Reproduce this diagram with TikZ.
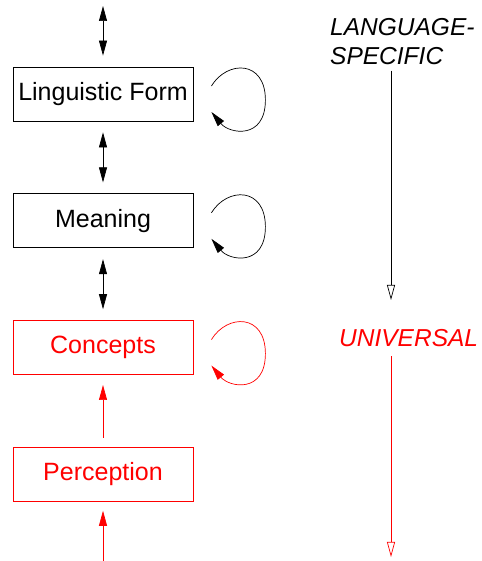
\documentclass[tikz,border=0pt]{standalone}
\usepackage{fontspec}
\setmainfont{Liberation Sans}
\usetikzlibrary{positioning,arrows.meta}

\begin{document}
\begin{tikzpicture}[x=1pt,y=1pt,>={Triangle[length=15pt,width=8pt]},node distance=72pt,
  every node/.style={font=\fontsize{25}{29}\selectfont},
  box/.style={draw,line width=0.8pt,minimum width=180pt,minimum height=54pt,inner sep=0pt},
  level/.style={font=\fontsize{24.5}{29}\selectfont\itshape,inner sep=0pt,align=left},
  link/.style={line width=0.7pt},
  down/.style={line width=0.7pt,-{Triangle[open,length=15pt,width=8pt]}}]
  \useasboundingbox (0,0) rectangle (481,561);

  \node[box] (form) at (103,467) {Linguistic Form};
  \node[box,below=of form] (meaning) {Meaning};
  \node[box,red,below=of meaning] (concepts) {Concepts};
  \node[box,red,below=of concepts] (percept) {Perception};

  \coordinate (out) at (103,555);
  \coordinate (in) at (103,0);

  \draw[link,<->,shorten >=11pt] (out) -- (form.north);
  \draw[link,<->,shorten <=11pt,shorten >=11pt] (form.south) -- (meaning.north);
  \draw[link,<->,shorten <=11pt,shorten >=11pt] (meaning.south) -- (concepts.north);
  \draw[link,red,->,shorten <=9pt,shorten >=10pt] (percept.north) -- (concepts.south);
  \draw[link,red,->,shorten >=9pt] (in) -- (percept.south);

  % self loops
  \draw[link,->] ([shift={(18,8)}]form.east) .. controls +(16,26) and +(0,40) .. ++(54,-14)
    .. controls +(0,-40) and +(18,-22) .. ++(-54,-12);
  \draw[link,->] ([shift={(18,8)}]meaning.east) .. controls +(16,26) and +(0,40) .. ++(54,-14)
    .. controls +(0,-40) and +(18,-22) .. ++(-54,-12);
  \draw[link,red,->] ([shift={(18,8)}]concepts.east) .. controls +(16,26) and +(0,40) .. ++(54,-14)
    .. controls +(0,-40) and +(18,-22) .. ++(-54,-12);

  % right hand scale
  \node[level,anchor=north west] (lang) at (330,543) {LANGUAGE-\\SPECIFIC};
  \node[level,red,anchor=base west] (univ) at (339,214) {UNIVERSAL};
  \coordinate (lend) at (391,261);
  \coordinate (uend) at (391,4);

  \draw[down,shorten <=6pt] (lang.south -| lend) -- (lend);
  \draw[down,red,shorten <=9pt] (univ.south -| uend) -- (uend);
\end{tikzpicture}
\end{document}
